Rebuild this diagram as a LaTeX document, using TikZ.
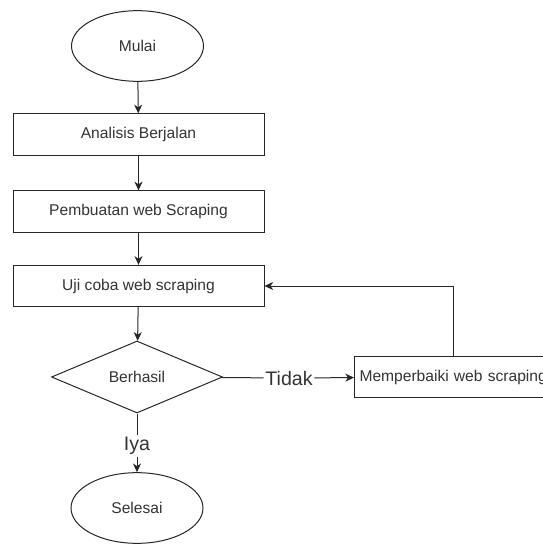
\documentclass[tikz,border=0pt]{standalone}
\usepackage{fontspec}
\setmainfont{Liberation Sans}
\usepackage{tikz}
\usetikzlibrary{shapes.geometric,arrows.meta}

\definecolor{txt}{HTML}{333333}
\tikzset{
   every node/.style={text=txt, font=\fontsize{11.7}{14}\selectfont},
   proses/.style={draw, rectangle, inner sep=0pt, minimum width=188.25pt, minimum height=31pt},
   terminal/.style={draw, ellipse, inner sep=0pt, minimum width=99pt, minimum height=53pt},
   keputusan/.style={draw, diamond, inner sep=0pt, minimum width=128.25pt, minimum height=54pt},
   ket/.style={inner sep=1pt, font=\fontsize{14.7}{17}\selectfont},
   panah/.style={-{Stealth[length=6.5pt,width=6pt,inset=2pt]}},
   garis/.style={line width=0.75pt, draw=black!85}
}

\begin{document}
\begin{tikzpicture}[x=0.75pt, y=-0.75pt, garis]
   \useasboundingbox (0,0) rectangle (542,545);
   \node[terminal](mulai) at (137.5,46) {Mulai};
   \node[proses](analisis) at (138.5,134.5) {Analisis Berjalan};
   \node[proses](pembuatan) at (138.5,211.5) {Pembuatan web Scraping};
   \node[proses](uji) at (138.5,286) {Uji coba web scraping};
   \node[keputusan](berhasil) at (137,377) {Berhasil};
   \node[ket](tidak) at (289,378) {Tidak};
   \node[proses, anchor=west, minimum width=148.5pt, text width=141pt, align=left](perbaiki) at (354,377) {Memperbaiki web scraping};
   \node[ket](iya) at (137,446) {Iya};
   \node[terminal](selesai) at (137,508) {Selesai};
   
   \draw[panah](mulai) to (analisis);
   \draw[panah](analisis) to (pembuatan);
   \draw[panah](pembuatan) to (uji);
   \draw[panah](uji) to (berhasil);
   \draw[-](berhasil) to (tidak);
   \draw[panah](tidak) to (perbaiki);
   \draw[panah](perbaiki.north) |- (uji.east);
   \draw[-](berhasil) to (iya);
   \draw[panah](iya) to (selesai);
   
\end{tikzpicture}
\end{document}
